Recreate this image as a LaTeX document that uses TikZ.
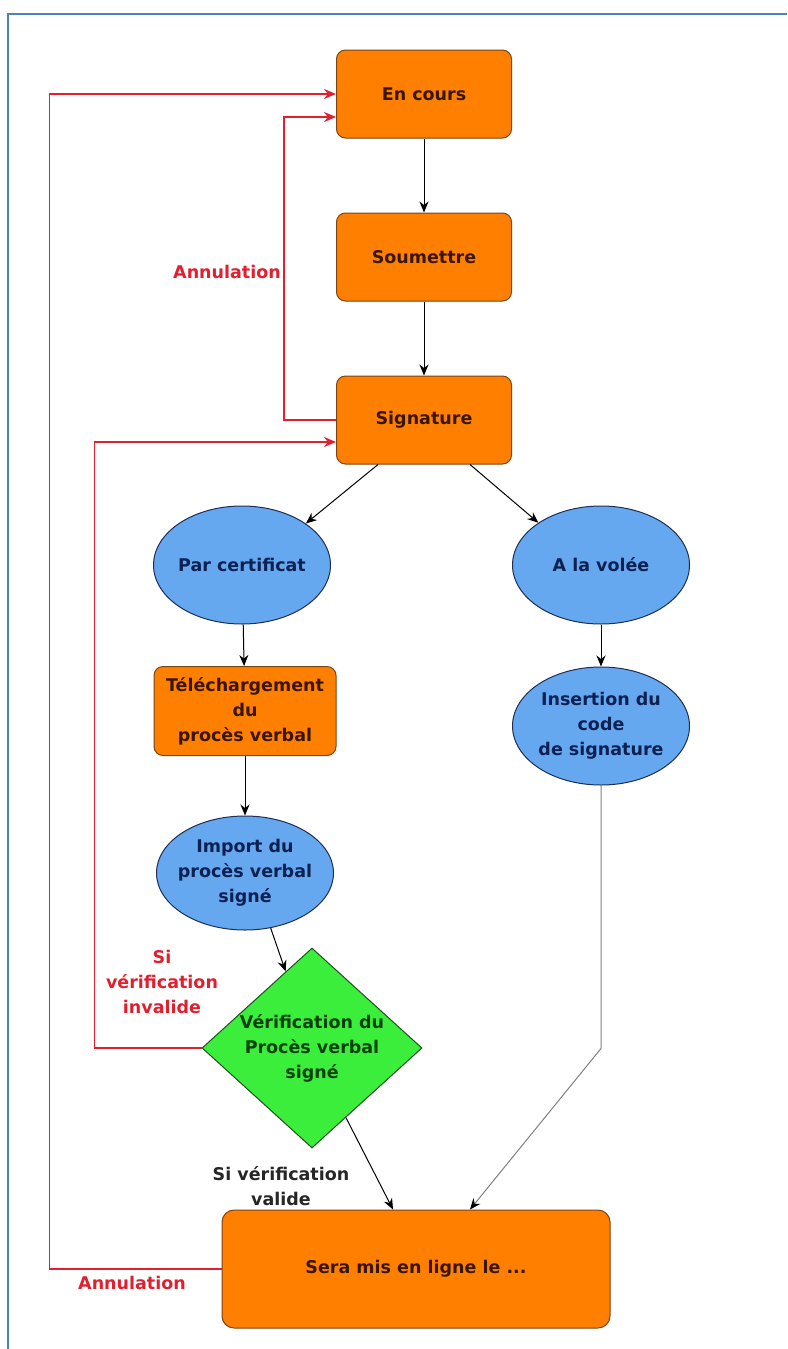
\documentclass[tikz,border=0pt]{standalone}
\usepackage{fontspec}
\setmainfont{DejaVu Sans}
\usetikzlibrary{arrows.meta,positioning,shapes.geometric}

\definecolor{cadre}{HTML}{4F81BD}
\definecolor{orangeetat}{HTML}{FF8000}
\definecolor{bordetat}{HTML}{7A4414}
\definecolor{texteetat}{HTML}{3A1600}
\definecolor{bleuchoix}{HTML}{66A8F0}
\definecolor{bordchoix}{HTML}{1E2E55}
\definecolor{textechoix}{HTML}{0D2052}
\definecolor{vertverif}{HTML}{3CEE3C}
\definecolor{bordverif}{HTML}{1F4F1F}
\definecolor{texteverif}{HTML}{0A400A}
\definecolor{rougeannul}{HTML}{E0202E}

\begin{document}
\begin{tikzpicture}[x=1pt,y=-1pt,node distance=74pt,
    every node/.style={align=center,font=\fontsize{17.5}{25}\selectfont\bfseries},
    etat/.style={draw=bordetat,fill=orangeetat,text=texteetat,line width=1pt,rounded corners=9pt,minimum width=175pt,minimum height=88pt},
    choix/.style={ellipse,draw=bordchoix,fill=bleuchoix,text=textechoix,line width=1pt,inner xsep=-10pt,inner ysep=0pt,minimum width=177pt,minimum height=118pt},
    verif/.style={diamond,draw=bordverif,fill=vertverif,text=texteverif,line width=1pt,inner sep=0pt,aspect=1.1,minimum width=220pt,minimum height=200pt},
    fleche/.style={-{Stealth[length=11pt,width=9pt,black]},line width=1pt},
    annul/.style={-{Stealth[length=12pt,width=10pt]},draw=rougeannul,line width=1.8pt}]
  \useasboundingbox (0,0) rectangle (787,1349);
  % cadre
  \draw[cadre,line width=2.5pt] (8,1349) -- (8,14) -- (787,14);

  \node[etat] (enc) at (424,94) {En cours};
  \node[etat,below=of enc] (soum) {Soumettre};
  \node[etat,below=of soum] (sig) {Signature};
  \node[choix] (parcert) at (242,565) {Par certificat};
  \node[choix] (vol) at (601,565) {A la volée};
  \node[etat,minimum width=182pt,minimum height=89pt] (tele) at (245,711) {Téléchargement\\du\\procès verbal};
  \node[choix] (ins) at (601,726) {Insertion du\\code\\de signature};
  \node[choix,minimum height=114pt] (imp) at (245,873) {Import du\\procès verbal\\signé};
  \node[verif] (vp) at (312,1048) {Vérification du\\Procès verbal\\signé};
  \node[etat,rounded corners=12pt,minimum width=388pt,minimum height=118pt] (sera) at (416,1269) {Sera mis en ligne le ...};

  \draw[fleche] (enc) -- (soum);
  \draw[fleche] (soum) -- (sig);
  \draw[fleche] ([xshift=-46pt]sig.south) -- (parcert.33);
  \draw[fleche] ([xshift=46pt]sig.south) -- (vol.146);
  \draw[fleche] (parcert) -- (tele);
  \draw[fleche] (vol) -- (ins);
  \draw[fleche] (tele) -- (imp);
  \draw[fleche] (imp.-65) -- (vp.109);
  \draw[fleche] (vp.-64) -- ([xshift=-23pt]sera.north);
  \draw[fleche,draw=gray] (ins.south) -- ++(0,263) -- ([xshift=54pt]sera.north);

  % retours en rouge
  \draw[annul] (sig.west) -- ++(-52,0) |- ([yshift=-23pt]enc.west);
  \draw[annul] (sera.west) -- ++(-172,0) |- (enc.west);
  \draw[annul] (vp.west) -- ++(-107,0) |- ([yshift=-22pt]sig.west);

  \node[text=rougeannul] (lannul) at (227,272) {Annulation};
  \node[text=rougeannul] (lannulbas) at (132,1283) {Annulation};
  \node[text=rougeannul] (linval) at (162,982) {Si\\vérification\\invalide};
  \node[text=black!85] (lvalide) at (281,1186) {Si vérification\\valide};
\end{tikzpicture}
\end{document}
